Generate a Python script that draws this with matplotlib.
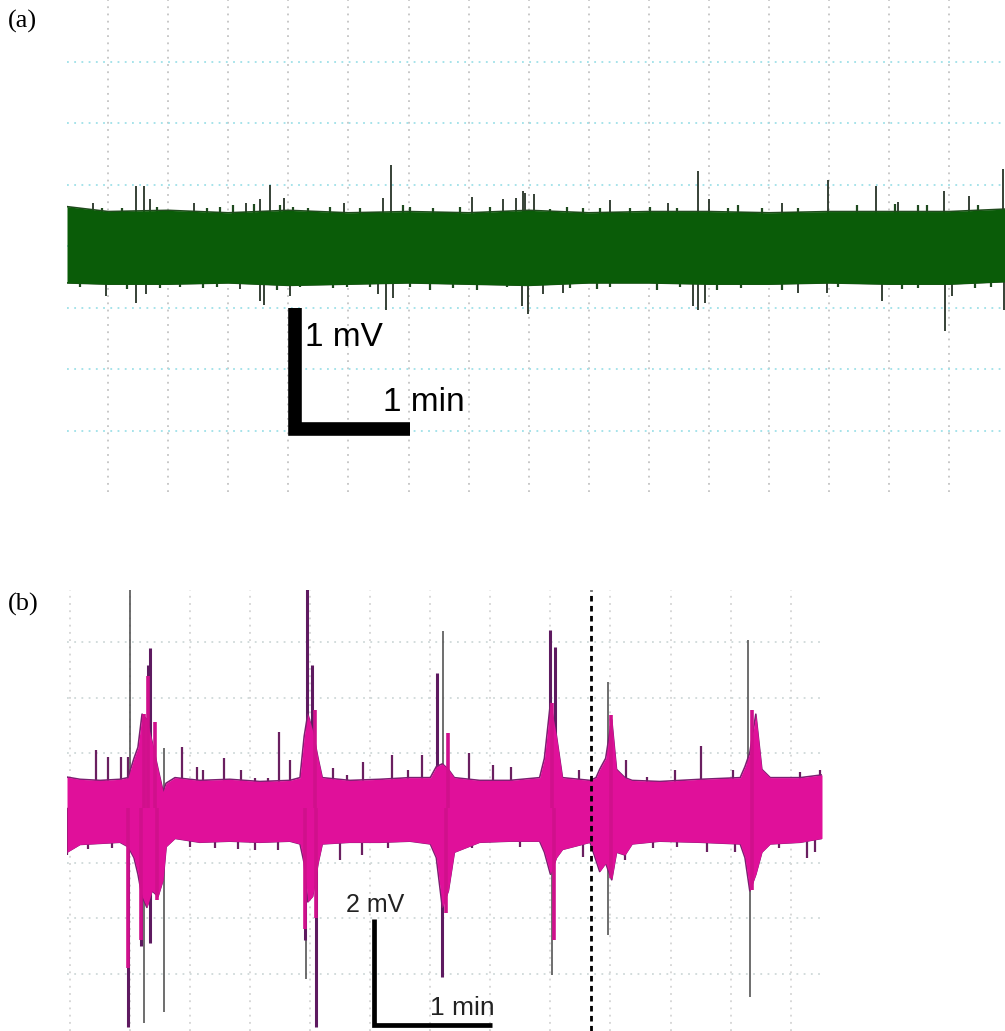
import matplotlib
matplotlib.use("Agg")
from matplotlib import pyplot as plt

# ---- panel (a): quiet recording, time in min, voltage in mV ----
# noise band envelope
env_a_t = [-0.342, 0, 0.5, 1.0, 1.5, 2.0, 2.5, 3.0, 3.5, 4.0, 4.5, 5.0, 5.5, 6.0, 6.5, 7.0, 7.463]
env_a_up = [0.32, 0.28, 0.29, 0.27, 0.29, 0.27, 0.28, 0.27, 0.29, 0.27, 0.28, 0.28, 0.27, 0.28, 0.28, 0.28, 0.30]
env_a_lo = [-0.30, -0.31, -0.31, -0.30, -0.32, -0.31, -0.30, -0.31, -0.32, -0.30, -0.30, -0.31, -0.31, -0.30, -0.31, -0.31, -0.29]

# spikes sticking out of the band
spk_a_up_t = [-0.125, 0.233, 0.30, 0.35, 0.715, 1.15, 1.26, 1.35, 1.46, 1.96, 2.29, 2.355, 3.03, 3.29,
              3.39, 3.45, 3.47, 3.54, 4.18, 4.66, 4.91, 5.0, 5.61, 5.99, 6.39, 6.57, 6.955, 7.16, 7.45]
spk_a_up_v = [0.35, 0.49, 0.49, 0.38, 0.35, 0.35, 0.38, 0.50, 0.39, 0.35, 0.39, 0.66, 0.40, 0.38,
              0.39, 0.45, 0.43, 0.42, 0.37, 0.35, 0.61, 0.38, 0.35, 0.54, 0.49, 0.36, 0.45, 0.41, 0.63]
spk_a_dn_t = [-0.017, 0.233, 0.316, 1.10, 1.265, 1.30, 1.515, 2.246, 2.313, 2.37, 3.444, 3.494, 3.62,
              3.785, 4.867, 4.909, 4.967, 5.74, 5.98, 6.44, 6.963, 7.02, 7.454]
spk_a_dn_v = [-0.41, -0.46, -0.39, -0.35, -0.45, -0.48, -0.41, -0.39, -0.52, -0.42, -0.49, -0.55, -0.39,
              -0.38, -0.49, -0.52, -0.46, -0.38, -0.38, -0.45, -0.69, -0.41, -0.52]

# small ripples on the band edges
fuzz_a_up_t = [-0.05, 0.116, 0.41, 0.82, 0.93, 1.04, 1.21, 1.43, 1.54, 1.66, 1.85, 2.10, 2.45, 2.51, 2.70,
               2.93, 3.18, 3.68, 3.82, 3.95, 4.09, 4.34, 4.51, 4.73, 5.16, 5.24, 5.44, 5.74, 6.23, 6.55,
               6.74, 6.81, 7.24]
fuzz_a_up_v = [0.31, 0.31, 0.32, 0.31, 0.32, 0.33, 0.34, 0.33, 0.32, 0.31, 0.32, 0.31, 0.33, 0.32, 0.31,
               0.32, 0.32, 0.30, 0.32, 0.31, 0.31, 0.31, 0.32, 0.31, 0.31, 0.33, 0.31, 0.31, 0.33, 0.34,
               0.33, 0.33, 0.33]
fuzz_a_dn_t = [-0.233, 0.158, 0.433, 0.60, 0.79, 0.907, 1.406, 1.597, 1.87, 1.99, 2.18, 2.51, 2.68, 2.87,
               3.07, 3.32, 3.84, 4.07, 4.18, 4.57, 4.76, 5.07, 5.27, 5.61, 6.07, 6.61, 6.74, 7.21, 7.35]
fuzz_a_dn_v = [-0.33, -0.35, -0.34, -0.33, -0.34, -0.33, -0.36, -0.33, -0.34, -0.33, -0.33, -0.33, -0.36,
               -0.34, -0.36, -0.33, -0.34, -0.35, -0.33, -0.36, -0.33, -0.36, -0.34, -0.36, -0.33, -0.35,
               -0.34, -0.34, -0.33]

# ---- panel (b): bursting recording ----
env_b_t = [-0.025, 0.083, 0.25, 0.416, 0.483, 0.533, 0.566, 0.60, 0.64, 0.683, 0.733, 0.775, 0.80, 0.874,
           1.08, 1.33, 1.58, 1.83, 1.915, 1.95, 1.98, 2.02, 2.065, 2.10, 2.33, 2.58, 2.83, 3.0, 3.05,
           3.10, 3.15, 3.20, 3.41, 3.66, 3.91, 3.95, 4.0, 4.05, 4.10, 4.33, 4.38, 4.41, 4.46, 4.51, 4.55,
           4.62, 4.68, 4.91, 5.25, 5.58, 5.62, 5.66, 5.71, 5.76, 5.83, 6.08, 6.261]
env_b_up = [0.56, 0.52, 0.50, 0.52, 0.55, 0.9, 1.1, 1.7, 1.6, 1.2, 0.7, 0.3, 0.45, 0.55,
            0.50, 0.52, 0.48, 0.50, 0.55, 1.3, 1.7, 1.4, 0.9, 0.55, 0.50, 0.52, 0.55, 0.55, 0.75,
            0.8, 0.7, 0.55, 0.50, 0.50, 0.55, 0.9, 1.9, 1.3, 0.55, 0.50, 0.55, 0.7, 0.9, 1.6, 0.7,
            0.55, 0.50, 0.48, 0.52, 0.55, 0.75, 1.0, 1.7, 0.7, 0.55, 0.55, 0.60]
env_b_lo = [-0.80, -0.66, -0.64, -0.62, -0.70, -0.9, -1.2, -1.6, -1.8, -1.5, -1.6, -1.3, -0.7, -0.55,
            -0.62, -0.60, -0.62, -0.60, -0.65, -1.0, -1.7, -1.6, -1.0, -0.65, -0.62, -0.62, -0.60, -0.65, -0.9,
            -1.8, -1.5, -0.8, -0.62, -0.60, -0.60, -0.8, -1.2, -0.9, -0.75, -0.62, -0.95, -1.15, -1.0, -1.3, -0.8,
            -0.85, -0.65, -0.60, -0.62, -0.65, -0.9, -1.5, -1.2, -0.8, -0.65, -0.62, -0.55]

# tall thin grey spikes
spk_b_grey_t = [0.50, 0.783, 3.106, 4.48, 5.645, 0.616, 0.783, 1.965, 4.48, 5.66, 4.01]
spk_b_grey_v = [3.97, 1.08, 3.2, 2.28, 3.04, -3.9, -3.7, -3.1, -2.3, -3.42, -3.03]
# thick purple spikes
spk_b_purp_t = [0.666, 0.65, 1.97, 2.015, 3.056, 4.0, 4.04, 0.483, 0.59, 0.666, 1.96, 2.05, 3.10]
spk_b_purp_v = [2.9, 2.59, 3.97, 2.6, 2.45, 3.22, 2.92, -3.97, -2.5, -2.45, -2.4, -3.97, -3.06]
# magenta cores inside the bursts
spk_b_pink_t = [0.65, 0.708, 0.62, 2.04, 3.147, 4.01, 4.505, 5.68, 0.483, 0.59, 0.725, 1.96, 2.05,
                3.13, 4.03, 4.505, 5.68]
spk_b_pink_v = [2.4, 1.56, 1.7, 1.78, 1.36, 1.9, 1.68, 1.78, -2.9, -2.4, -1.67, -2.2, -2.0,
                -1.9, -2.4, -1.27, -1.49]
# small spikes on the band edges
spk_b_small_t = [0.216, 0.316, 0.425, 0.483, 0.933, 1.06, 1.11, 1.28, 1.42, 1.54, 1.65, 1.74, 1.83, 2.19,
                 2.31, 2.44, 2.68, 2.81, 2.93, 3.32, 3.52, 3.67, 3.82, 4.24, 4.63, 4.8, 5.04, 5.25, 5.52,
                 6.08, 6.245,
                 -0.025, 0.15, 0.35, 1.0, 1.21, 1.40, 1.54, 1.73, 2.25, 2.43, 2.65, 3.35, 3.75, 4.27, 4.62,
                 4.85, 5.05, 5.3, 5.54, 5.9, 6.14, 6.2]
spk_b_small_v = [1.05, 0.92, 0.92, 0.92, 1.1, 0.75, 0.69, 0.9, 0.69, 0.55, 0.55, 1.38, 0.87, 0.72,
                 0.6, 0.83, 0.96, 0.69, 0.96, 1.0, 0.78, 0.74, 0.5, 0.69, 0.87, 0.56, 0.69, 1.12, 0.69,
                 0.65, 0.69,
                 -0.85, -0.75, -0.72, -0.7, -0.72, -0.74, -0.76, -0.76, -0.94, -0.85, -0.72, -0.72, -0.7, -0.89,
                 -0.95, -0.72, -0.7, -0.8, -0.8, -0.72, -0.9, -0.8]

# dashed marker and scale bars
mark_b_t = 4.34
bar_a = {'t0': 1.556, 't1': 2.513, 'v0': -0.508, 'v1': -1.484}
bar_b = {'t0': 2.53, 't1': 3.51, 'v0': -2.01, 'v1': -3.93}

fig = plt.figure(figsize=(10.05, 10.31), dpi=100)

# axes placed to match the pixel layout of the original
ax_a = fig.add_axes([67 / 1005, (1031 - 492) / 1031, 938 / 1005, 492 / 1031])
ax_b = fig.add_axes([67 / 1005, 0, 755 / 1005, 441 / 1031])


def grid_setup(ax, xt, yt, hcol, vcol):
    ax.set_xticks(xt)
    ax.set_yticks(yt)
    ax.tick_params(length=0, labelbottom=False, labelleft=False)
    for s in ax.spines.values():
        s.set_visible(False)
    ax.xaxis.grid(True, color=vcol, linestyle=(0, (1, 3)), linewidth=1.3)
    ax.yaxis.grid(True, color=hcol, linestyle=(0, (1, 3)), linewidth=1.3)
    ax.set_axisbelow(True)


# panel (a)  -- spikes go under the band so only their tips show
ax_a.set_xlim(-0.342, 7.463)
ax_a.set_ylim(-2.0, 2.0)
grid_setup(ax_a, [i * 0.5 for i in range(15)], [-1.5, -1.0, -0.5, 0, 0.5, 1.0, 1.5], '#9ee0e8', '#c4c4c4')

ax_a.vlines(fuzz_a_up_t, 0, fuzz_a_up_v, color='#1f4a1f', lw=1.6, zorder=2)
ax_a.vlines(fuzz_a_dn_t, 0, fuzz_a_dn_v, color='#1f4a1f', lw=1.6, zorder=2)
ax_a.vlines(spk_a_up_t, 0, spk_a_up_v, color='#263326', lw=1.3, zorder=2)
ax_a.vlines(spk_a_dn_t, 0, spk_a_dn_v, color='#263326', lw=1.3, zorder=2)
ax_a.plot(env_a_t, env_a_up, color='#214a1e', lw=1.2, zorder=3)
ax_a.plot(env_a_t, env_a_lo, color='#214a1e', lw=1.2, zorder=3)
ax_a.fill_between(env_a_t, env_a_lo, env_a_up, color='#0a5c08', lw=0, zorder=4)

ax_a.plot([bar_a['t0'], bar_a['t0'], bar_a['t1']], [bar_a['v0'], bar_a['v1'], bar_a['v1']],
          color='black', lw=9.8, solid_joinstyle='miter', solid_capstyle='butt', zorder=5)
ax_a.text(1.64, -0.744, '1 mV', fontsize=24, family='Liberation Sans', va='center', ha='left')
ax_a.text(2.29, -1.27, '1 min', fontsize=24, family='Liberation Sans', va='center', ha='left')

# panel (b)
ax_b.set_xlim(-0.025, 6.261)
ax_b.set_ylim(-4.04, 3.95)
grid_setup(ax_b, [i * 0.5 for i in range(13)], [-3, -2, -1, 0, 1, 2, 3], '#cfd9d9', '#d4d4d4')

ax_b.vlines(spk_b_small_t, 0, spk_b_small_v, color='#6a1f60', lw=1.6, zorder=2)
ax_b.vlines(spk_b_grey_t, 0, spk_b_grey_v, color='#555555', lw=1.2, zorder=2)
ax_b.vlines(spk_b_purp_t, 0, spk_b_purp_v, color='#5e1a60', lw=2.2, zorder=2)
ax_b.plot(env_b_t, env_b_up, color='#7a2070', lw=1.2, zorder=3)
ax_b.plot(env_b_t, env_b_lo, color='#7a2070', lw=1.2, zorder=3)
ax_b.fill_between(env_b_t, env_b_lo, env_b_up, color='#e0109a', lw=0, zorder=4)
ax_b.vlines(spk_b_pink_t, 0, spk_b_pink_v, color='#d0108c', lw=2.6, zorder=5)

ax_b.axvline(mark_b_t, color='black', lw=2.0, linestyle=(0, (2, 1.6)), zorder=6)

ax_b.plot([bar_b['t0'], bar_b['t0'], bar_b['t1']], [bar_b['v0'], bar_b['v1'], bar_b['v1']],
          color='black', lw=3.4, solid_joinstyle='miter', solid_capstyle='butt', zorder=6)
ax_b.text(2.30, -1.76, '2 mV', fontsize=18, family='Liberation Sans', va='center', ha='left', color='#222222')
ax_b.text(3.0, -3.62, '1 min', fontsize=19, family='Liberation Sans', va='center', ha='left', color='#222222')

# panel letters
fig.text(8 / 1005, 1 - 21 / 1031, '(a)', fontsize=19, family='Liberation Serif', va='center', ha='left')
fig.text(8 / 1005, 1 - 604 / 1031, '(b)', fontsize=19, family='Liberation Serif', va='center', ha='left')

fig.savefig('out.png', dpi=100)
